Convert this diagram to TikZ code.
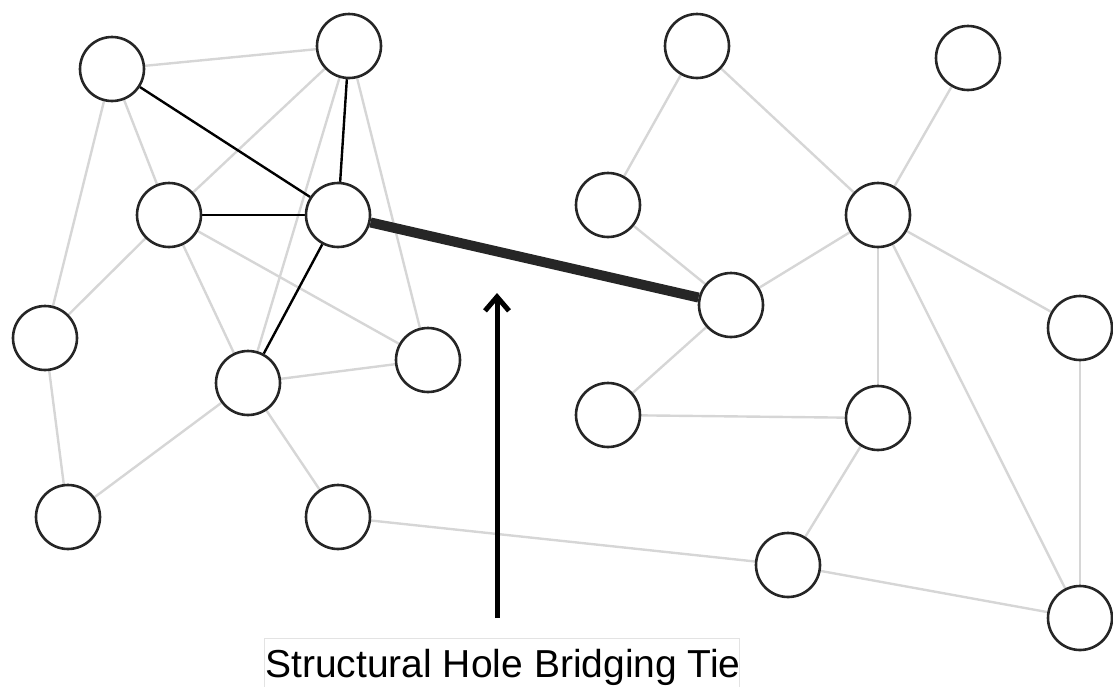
\documentclass[tikz,border=0pt]{standalone}
\usepackage{fontspec}
\setmainfont{Liberation Sans}
\usetikzlibrary{arrows.meta,backgrounds}
\definecolor{ringcol}{HTML}{262626}
\definecolor{weakcol}{HTML}{D6D6D6}
\tikzset{
  actor/.style={circle, draw=ringcol, line width=2.6pt, fill=white, minimum size=64pt, inner sep=0pt},
  weak/.style={draw=weakcol, line width=2.4pt},
  strong/.style={draw=black, line width=2.4pt},
  bridge/.style={draw=ringcol, line width=10pt},
  pointer/.style={draw=black, line width=5pt, -{Straight Barb[length=14pt,width=24pt]}},
  labelbox/.style={draw=gray!22, line width=0.8pt}
}
\begin{document}
\begin{tikzpicture}[x=1pt,y=-1pt]
\useasboundingbox (0,0) rectangle (1113,686);
% left cluster
\node[actor] (A) at (112,69) {};
\node[actor] (B) at (349,46) {};
\node[actor] (C) at (169,215) {};
\node[actor] (D) at (338,215) {};
\node[actor] (E) at (45,338) {};
\node[actor] (F) at (428,360) {};
\node[actor] (G) at (248,383) {};
\node[actor] (H) at (68,517) {};
\node[actor] (I) at (338,517) {};
% right cluster
\node[actor] (J) at (697,46) {};
\node[actor] (K) at (968,58) {};
\node[actor] (L) at (608,205) {};
\node[actor] (M) at (878,215) {};
\node[actor] (N) at (731,305) {};
\node[actor] (O) at (1080,328) {};
\node[actor] (P) at (608,415) {};
\node[actor] (Q) at (878,418) {};
\node[actor] (R) at (788,565) {};
\node[actor] (S) at (1080,618) {};
\begin{scope}[on background layer]
  \foreach \u/\v in {A/B,A/C,A/E,B/C,B/G,B/F,C/E,C/G,C/F,E/H,G/H,G/I,G/F,I/R,R/S,
                     J/L,J/M,K/M,L/N,M/N,M/O,M/Q,M/S,N/P,P/Q,Q/R,O/S}
    \draw[weak] (\u) -- (\v);
  \foreach \u/\v in {A/D,B/D,C/D,D/G}
    \draw[strong] (\u) -- (\v);
  \draw[bridge] (D) -- (N);
\end{scope}
% label and pointer
\draw[labelbox] (264,638) rectangle (739,700);
\node[anchor=base, inner sep=0pt] (lbl) at (503,677) {\fontsize{39}{40}\selectfont Structural Hole Bridging Tie};
\coordinate (ptail) at (497,618);
\coordinate (phead) at (497,293);
\draw[pointer] (ptail) -- (phead);
\end{tikzpicture}
\end{document}
